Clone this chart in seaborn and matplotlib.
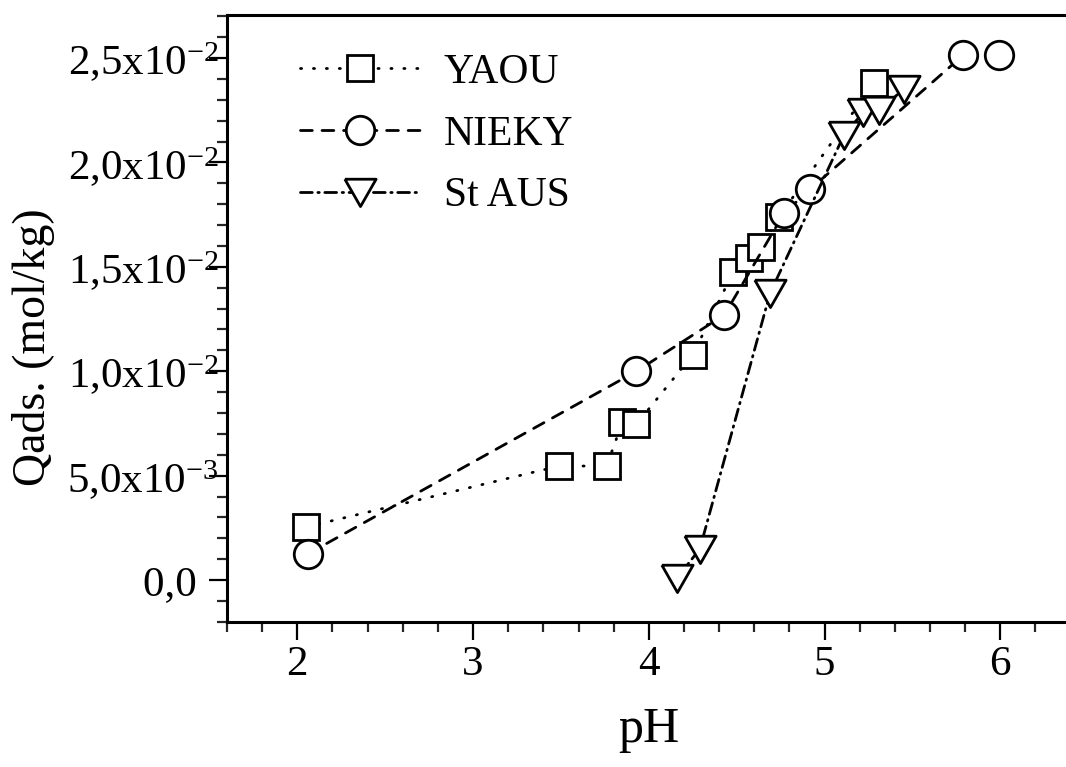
import pandas as pd
import seaborn as sns
import matplotlib.pyplot as plt
from matplotlib.ticker import FixedLocator, FixedFormatter

# values (pH vs adsorbed quantity, mol/kg)
yaou_ph = [2.05, 3.49, 3.76, 3.85, 3.93, 4.25, 4.48, 4.57, 4.64, 4.74, 5.28]
yaou_q = [2.54e-3, 5.46e-3, 5.46e-3, 7.57e-3, 7.47e-3, 1.078e-2,
          1.475e-2, 1.542e-2, 1.595e-2, 1.738e-2, 2.38e-2]

nieky_ph = [2.06, 3.93, 4.43, 4.77, 4.92, 5.79, 5.99]
nieky_q = [1.25e-3, 1.0e-2, 1.27e-2, 1.757e-2, 1.873e-2, 2.514e-2, 2.514e-2]

staus_ph = [4.16, 4.29, 4.69, 5.11, 5.22, 5.31, 5.45]
staus_q = [1.0e-4, 1.48e-3, 1.374e-2, 2.13e-2, 2.24e-2, 2.25e-2, 2.35e-2]

series_names = ['YAOU', 'NIEKY', 'St AUS']

x_ticks = [2, 3, 4, 5, 6]
x_ticklabels = ['2', '3', '4', '5', '6']
y_ticks = [0.0, 0.005, 0.010, 0.015, 0.020, 0.025]
y_ticklabels = ['0,0  ', '5,0x10$^{-3}$', '1,0x10$^{-2}$',
                '1,5x10$^{-2}$', '2,0x10$^{-2}$', '2,5x10$^{-2}$']

sns.set_style('ticks')
plt.rcParams['font.family'] = ['Liberation Serif', 'DejaVu Serif']
plt.rcParams['mathtext.fontset'] = 'custom'
plt.rcParams['mathtext.rm'] = 'Liberation Serif'
plt.rcParams['mathtext.it'] = 'Liberation Serif:italic'
plt.rcParams['lines.scale_dashes'] = False
plt.rcParams['text.color'] = 'black'
plt.rcParams['axes.labelcolor'] = 'black'

fig = plt.figure(figsize=(10.66, 7.67), dpi=100)
ax = fig.add_axes([227 / 1066, 145 / 767, 839 / 1066, 607 / 767])

# down-pointing triangle, a bit wider than tall
tri = [(-1, 0.85), (1, 0.85), (0, -0.9), (-1, 0.85)]

styles = {
    'YAOU': dict(marker='s', markersize=18.5, linestyle=(0, (0.8, 8.5))),
    'NIEKY': dict(marker='o', markersize=20.5, linestyle=(0, (8.5, 7.0))),
    'St AUS': dict(marker=tri, markersize=22.5, linestyle=(0, (8.5, 4.0, 1.0, 4.0))),
}
data = {'YAOU': (yaou_ph, yaou_q), 'NIEKY': (nieky_ph, nieky_q),
        'St AUS': (staus_ph, staus_q)}

for name in series_names:
    ph, q = data[name]
    df = pd.DataFrame({'pH': ph, 'Q': q})
    sns.lineplot(data=df, x='pH', y='Q', ax=ax, estimator=None, sort=False,
                 color='black', lw=2.0, label=name,
                 markerfacecolor='white', markeredgecolor='black',
                 markeredgewidth=2.0, dash_capstyle='round',
                 **styles[name])

ax.set_xlim(1.6, 1.6 + 839 / 175.75)
ax.set_ylim(-0.00201, 0.02706)

ax.xaxis.set_major_locator(FixedLocator(x_ticks))
ax.xaxis.set_major_formatter(FixedFormatter(x_ticklabels))
ax.xaxis.set_minor_locator(FixedLocator([1.6 + 0.2 * i for i in range(24)]))
ax.yaxis.set_major_locator(FixedLocator(y_ticks))
ax.yaxis.set_major_formatter(FixedFormatter(y_ticklabels))
ax.yaxis.set_minor_locator(FixedLocator([-0.002 + 0.001 * i for i in range(30)]))

ax.tick_params(which='major', direction='out', length=13, width=1.6,
               labelsize=31, colors='black')
ax.tick_params(which='minor', direction='out', length=7, width=1.6)
ax.tick_params(axis='x', pad=4)
ax.tick_params(axis='y', pad=-7)

for side in ['left', 'bottom', 'top']:
    ax.spines[side].set_linewidth(2.2)
    ax.spines[side].set_color('black')
ax.spines['right'].set_visible(False)

ax.set_xlabel('pH', fontsize=36)
ax.set_ylabel('Qads. (mol/kg)', fontsize=33)
ax.xaxis.set_label_coords(0.503, -0.14)
ax.yaxis.set_label_coords(-0.205, 0.453)

ax.legend(loc='upper left', bbox_to_anchor=(0.087, 0.937), frameon=False,
          fontsize=30, numpoints=1, handlelength=2.9, handletextpad=0.55,
          labelspacing=0.56, borderpad=0, borderaxespad=0)

fig.savefig('out.png', dpi=100)
